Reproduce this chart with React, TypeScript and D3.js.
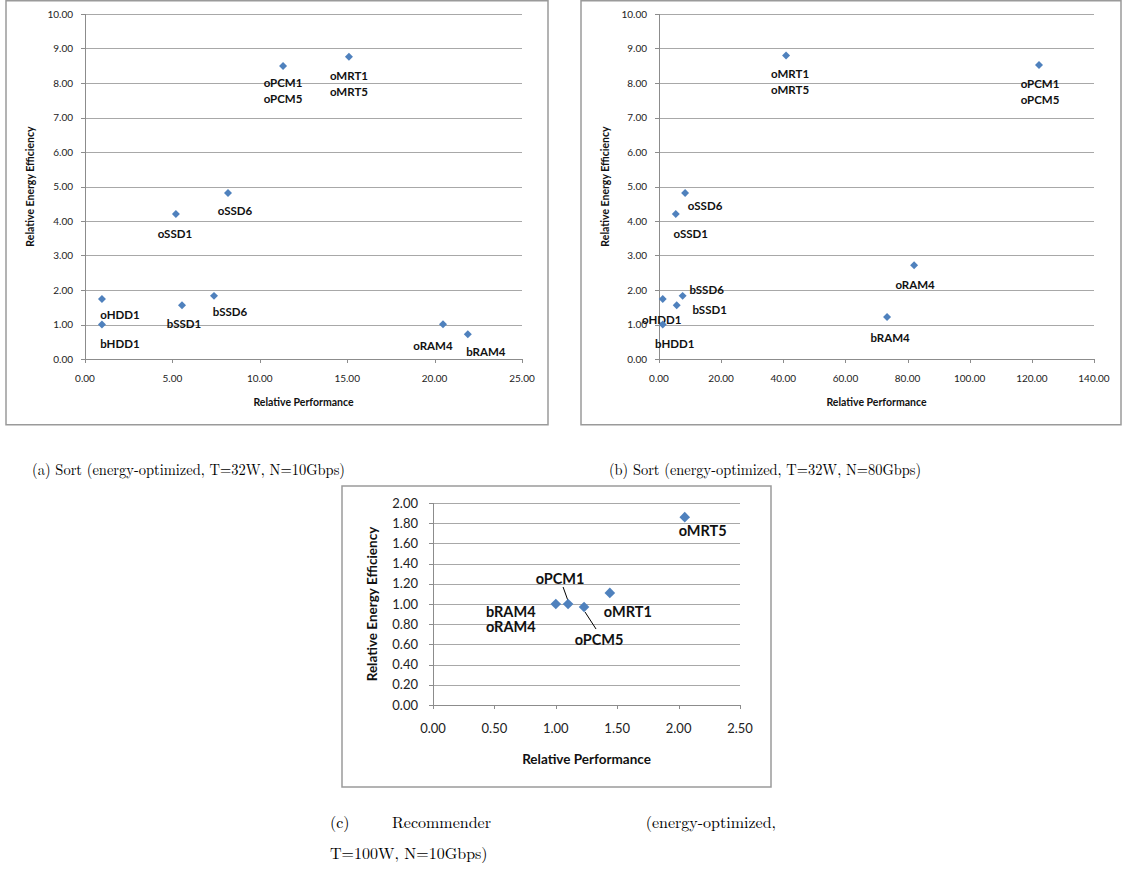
import React from "react";
import * as d3 from "d3";

// ---------- DATA ----------
const sortA_names = ["oPCM1\noPCM5", "oMRT1\noMRT5", "oSSD6", "oSSD1", "oHDD1", "bHDD1", "bSSD1", "bSSD6", "oRAM4", "bRAM4"];
const sortA_perf = [11.33, 15.1, 8.18, 5.2, 0.97, 0.97, 5.55, 7.38, 20.48, 21.9];
const sortA_eff = [8.49, 8.76, 4.81, 4.2, 1.74, 1.0, 1.56, 1.83, 1.01, 0.72];

const sortB_names = ["oMRT1\noMRT5", "oPCM1\noPCM5", "oSSD6", "oSSD1", "oHDD1", "bHDD1", "bSSD6", "bSSD1", "oRAM4", "bRAM4"];
const sortB_perf = [40.9, 122.3, 8.4, 5.4, 1.2, 1.2, 7.6, 5.7, 82.1, 73.4];
const sortB_eff = [8.8, 8.52, 4.81, 4.2, 1.74, 1.0, 1.83, 1.56, 2.72, 1.22];

const rec_names = ["bRAM4\noRAM4", "oPCM1", "oPCM5", "oMRT1", "oMRT5"];
const rec_perf = [1.0, 1.1, 1.23, 1.44, 2.05];
const rec_eff = [1.0, 1.0, 0.97, 1.11, 1.86];

const sortA_xTicks = [0, 5, 10, 15, 20, 25];
const sortB_xTicks = [0, 20, 40, 60, 80, 100, 120, 140];
const sort_yTicks = [0, 1, 2, 3, 4, 5, 6, 7, 8, 9, 10];
const rec_xTicks = [0, 0.5, 1.0, 1.5, 2.0, 2.5];
const rec_yTicks = [0, 0.2, 0.4, 0.6, 0.8, 1.0, 1.2, 1.4, 1.6, 1.8, 2.0];

const xTitle = "Relative Performance";
const yTitle = "Relative Energy Efficiency";
const captionA = "(a) Sort (energy-optimized, T=32W, N=10Gbps)";
const captionB = "(b) Sort (energy-optimized, T=32W, N=80Gbps)";

// ---------- LAYOUT (label offsets in px, relative to point) ----------
const labOffA: [number, number][] = [[0, 17], [0, 19], [7, 18], [-1, 20], [18, 16], [18, 19], [2, 19], [16, 16], [-10, 22], [18, 18]];
const labOffB: [number, number][] = [[4, 19], [1, 19], [20, 13], [15, 20], [-1, 21], [12, 19], [24, -6], [33, 5], [1, 20], [3, 21]];
const labOffC: [number, number][] = [[-45, 8], [-8, -25], [15, 33], [18, 19], [18, 14]];
// leader lines for panel c: [fromDx, fromDy, toDx, toDy] relative to point
const leaderC: ([number, number, number, number] | null)[] = [null, [-5, -17, 0, -3], [1, 5, 12, 22], null, null];

const FONT = "Lato, 'Open Sans', 'Liberation Sans', sans-serif";
const BLUE = "#4f81bd";
const GRID = "#a8a8a8";
const AXIS = "#8c8c8c";

type PanelProps = {
  box: [number, number, number, number];
  plot: [number, number, number, number];
  xDomain: [number, number];
  yDomain: [number, number];
  xTicks: number[];
  yTicks: number[];
  names: string[];
  xs: number[];
  ys: number[];
  offs: [number, number][];
  leaders?: ([number, number, number, number] | null)[];
  tickFs: number;
  labelFs: number;
  titleFs: number;
  markerR: number;
  yTitleX: number;
  xTitleY: number;
  xTickY: number;
  yTickRight: number;
  lineGap: number;
};

function Panel(p: PanelProps) {
  const [x0, y0, x1, y1] = p.plot;
  const xs = d3.scaleLinear().domain(p.xDomain).range([x0, x1]);
  const ys = d3.scaleLinear().domain(p.yDomain).range([y1, y0]);
  const [bx, by, bw, bh] = p.box;
  const diamond = d3.symbol().type(d3.symbolDiamond2 || d3.symbolDiamond).size(p.markerR * p.markerR * 2)();
  return (
    <g>
      <rect x={bx} y={by} width={bw} height={bh} fill="white" stroke="#9a9a9a" strokeWidth={1.5} />
      {p.yTicks.map((t, i) => (
        <line key={"g" + i} x1={x0} x2={x1} y1={Math.round(ys(t)) + 0.5} y2={Math.round(ys(t)) + 0.5} stroke={t === p.yDomain[0] ? AXIS : GRID} strokeWidth={1} />
      ))}
      <line x1={x0 + 0.5} x2={x0 + 0.5} y1={y0} y2={y1 + 0.5} stroke={AXIS} strokeWidth={1} />
      {p.yTicks.map((t, i) => (
        <g key={"yt" + i}>
          <line x1={x0 - 4} x2={x0} y1={Math.round(ys(t)) + 0.5} y2={Math.round(ys(t)) + 0.5} stroke={AXIS} />
          <text x={p.yTickRight} y={ys(t)} dy="0.35em" textAnchor="end" fontSize={p.tickFs} fill="#222" fontFamily={FONT}>
            {t.toFixed(2)}
          </text>
        </g>
      ))}
      {p.xTicks.map((t, i) => (
        <g key={"xt" + i}>
          <line x1={Math.round(xs(t)) + 0.5} x2={Math.round(xs(t)) + 0.5} y1={y1} y2={y1 + 4} stroke={AXIS} />
          <text x={xs(t)} y={p.xTickY} dy="0.35em" textAnchor="middle" fontSize={p.tickFs} fill="#222" fontFamily={FONT}>
            {t.toFixed(2)}
          </text>
        </g>
      ))}
      <text x={(x0 + x1) / 2} y={p.xTitleY} dy="0.35em" textAnchor="middle" fontSize={p.titleFs} fontWeight="bold" fill="#111" fontFamily={FONT}>
        {xTitle}
      </text>
      <text transform={`translate(${p.yTitleX},${(y0 + y1) / 2}) rotate(-90)`} dy="0.35em" textAnchor="middle" fontSize={p.titleFs} fontWeight="bold" fill="#111" fontFamily={FONT}>
        {yTitle}
      </text>
      {p.names.map((n, i) => {
        const px = xs(p.xs[i]);
        const py = ys(p.ys[i]);
        const [dx, dy] = p.offs[i];
        const lines = n.split("\n");
        const ld = p.leaders ? p.leaders[i] : null;
        return (
          <g key={"p" + i}>
            {ld && <line x1={px + ld[0]} y1={py + ld[1]} x2={px + ld[2]} y2={py + ld[3]} stroke="#000" strokeWidth={1} />}
            <path d={diamond as string} transform={`translate(${px},${py})`} fill={BLUE} />
            {lines.map((l, j) => (
              <text key={j} x={px + dx} y={py + dy + j * p.lineGap} dy="0.35em" textAnchor="middle" fontSize={p.labelFs} fontWeight="bold" fill="#111" fontFamily={FONT}>
                {l}
              </text>
            ))}
          </g>
        );
      })}
    </g>
  );
}

export default function App() {
  const serif = "'Latin Modern Roman', 'DejaVu Serif', 'Liberation Serif', serif";
  return (
    <svg width={1124} height={884} style={{ position: "absolute", left: 0, top: 0, background: "white" }}>
      <rect x={0} y={0} width={1124} height={884} fill="white" />
      <Panel
        box={[6, 0.75, 542, 424]}
        plot={[85, 14, 522, 359]}
        xDomain={[0, 25]}
        yDomain={[0, 10]}
        xTicks={sortA_xTicks}
        yTicks={sort_yTicks}
        names={sortA_names}
        xs={sortA_perf}
        ys={sortA_eff}
        offs={labOffA}
        tickFs={10}
        labelFs={11.5}
        titleFs={10.5}
        markerR={4.5}
        yTitleX={30}
        xTitleY={402}
        xTickY={378}
        yTickRight={73}
        lineGap={16}
      />
      <Panel
        box={[581, 0.75, 540, 424]}
        plot={[659, 14, 1094, 359]}
        xDomain={[0, 140]}
        yDomain={[0, 10]}
        xTicks={sortB_xTicks}
        yTicks={sort_yTicks}
        names={sortB_names}
        xs={sortB_perf}
        ys={sortB_eff}
        offs={labOffB}
        tickFs={10}
        labelFs={11.5}
        titleFs={10.5}
        markerR={4.5}
        yTitleX={605}
        xTitleY={402}
        xTickY={378}
        yTickRight={647}
        lineGap={16}
      />
      <Panel
        box={[342, 486, 429, 301]}
        plot={[433, 503, 740, 705]}
        xDomain={[0, 2.5]}
        yDomain={[0, 2]}
        xTicks={rec_xTicks}
        yTicks={rec_yTicks}
        names={rec_names}
        xs={rec_perf}
        ys={rec_eff}
        offs={labOffC}
        leaders={leaderC}
        tickFs={13}
        labelFs={14.5}
        titleFs={13.5}
        markerR={6}
        yTitleX={372}
        xTitleY={759}
        xTickY={728}
        yTickRight={418}
        lineGap={15}
      />
      <text x={32} y={475} fontSize={16} fontFamily={serif} textLength={313} lengthAdjust="spacingAndGlyphs" fill="#000">
        {captionA}
      </text>
      <text x={609} y={475} fontSize={16} fontFamily={serif} textLength={312} lengthAdjust="spacingAndGlyphs" fill="#000">
        {captionB}
      </text>
      <text x={330} y={828} fontSize={16} fontFamily={serif} fill="#000">(c)</text>
      <text x={392} y={828} fontSize={16} fontFamily={serif} fill="#000">Recommender</text>
      <text x={776} y={828} fontSize={16} fontFamily={serif} textAnchor="end" fill="#000">(energy-optimized,</text>
      <text x={330} y={859} fontSize={16} fontFamily={serif} fill="#000">T=100W, N=10Gbps)</text>
    </svg>
  );
}
